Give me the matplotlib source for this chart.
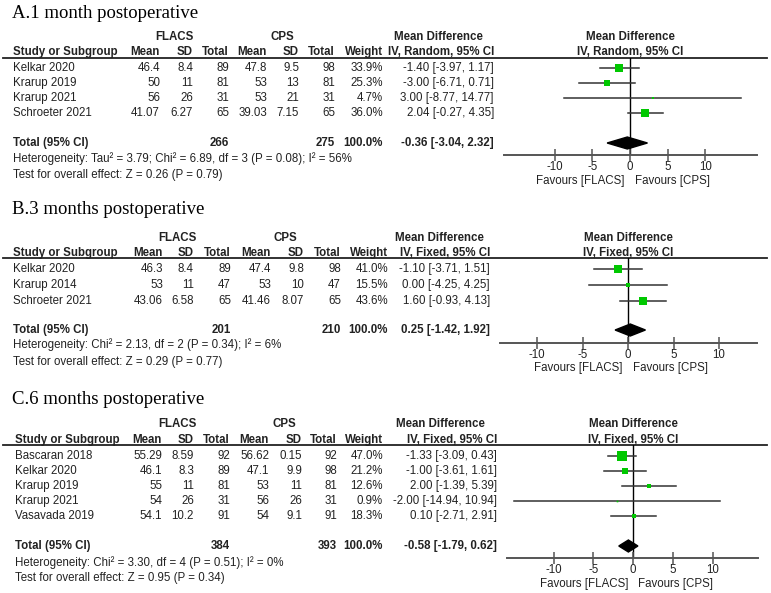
import matplotlib
matplotlib.use("Agg")
import matplotlib.pyplot as plt
import numpy as np

# ---------------- data ----------------
titles = ["A.1 month postoperative", "B.3 months postoperative", "C.6 months postoperative"]
methods = ["IV, Random, 95% CI", "IV, Fixed, 95% CI", "IV, Fixed, 95% CI"]

studies_A = ["Kelkar 2020", "Krarup 2019", "Krarup 2021", "Schroeter 2021"]
flacs_mean_A = ["46.4", "50", "56", "41.07"]
flacs_sd_A = ["8.4", "11", "26", "6.27"]
flacs_n_A = [89, 81, 31, 65]
cps_mean_A = ["47.8", "53", "53", "39.03"]
cps_sd_A = ["9.5", "13", "21", "7.15"]
cps_n_A = [98, 81, 31, 65]
weight_A = [33.9, 25.3, 4.7, 36.0]
md_A = [-1.40, -3.00, 3.00, 2.04]
lo_A = [-3.97, -6.71, -8.77, -0.27]
hi_A = [1.17, 0.71, 14.77, 4.35]
total_A = (266, 275, -0.36, -3.04, 2.32)
het_A = "Heterogeneity: Tau\u00b2 = 3.79; Chi\u00b2 = 6.89, df = 3 (P = 0.08); I\u00b2 = 56%"
test_A = "Test for overall effect: Z = 0.26 (P = 0.79)"

studies_B = ["Kelkar 2020", "Krarup 2014", "Schroeter 2021"]
flacs_mean_B = ["46.3", "53", "43.06"]
flacs_sd_B = ["8.4", "11", "6.58"]
flacs_n_B = [89, 47, 65]
cps_mean_B = ["47.4", "53", "41.46"]
cps_sd_B = ["9.8", "10", "8.07"]
cps_n_B = [98, 47, 65]
weight_B = [41.0, 15.5, 43.6]
md_B = [-1.10, 0.00, 1.60]
lo_B = [-3.71, -4.25, -0.93]
hi_B = [1.51, 4.25, 4.13]
total_B = (201, 210, 0.25, -1.42, 1.92)
het_B = "Heterogeneity: Chi\u00b2 = 2.13, df = 2 (P = 0.34); I\u00b2 = 6%"
test_B = "Test for overall effect: Z = 0.29 (P = 0.77)"

studies_C = ["Bascaran 2018", "Kelkar 2020", "Krarup 2019", "Krarup 2021", "Vasavada 2019"]
flacs_mean_C = ["55.29", "46.1", "55", "54", "54.1"]
flacs_sd_C = ["8.59", "8.3", "11", "26", "10.2"]
flacs_n_C = [92, 89, 81, 31, 91]
cps_mean_C = ["56.62", "47.1", "53", "56", "54"]
cps_sd_C = ["0.15", "9.9", "11", "26", "9.1"]
cps_n_C = [92, 98, 81, 31, 91]
weight_C = [47.0, 21.2, 12.6, 0.9, 18.3]
md_C = [-1.33, -1.00, 2.00, -2.00, 0.10]
lo_C = [-3.09, -3.61, -1.39, -14.94, -2.71]
hi_C = [0.43, 1.61, 5.39, 10.94, 2.91]
total_C = (384, 393, -0.58, -1.79, 0.62)
het_C = "Heterogeneity: Chi\u00b2 = 3.30, df = 4 (P = 0.51); I\u00b2 = 0%"
test_C = "Test for overall effect: Z = 0.95 (P = 0.34)"

ticks = [-10, -5, 0, 5, 10]

panels_data = [
    (studies_A, flacs_mean_A, flacs_sd_A, flacs_n_A, cps_mean_A, cps_sd_A, cps_n_A,
     weight_A, md_A, lo_A, hi_A, total_A, het_A, test_A),
    (studies_B, flacs_mean_B, flacs_sd_B, flacs_n_B, cps_mean_B, cps_sd_B, cps_n_B,
     weight_B, md_B, lo_B, hi_B, total_B, het_B, test_B),
    (studies_C, flacs_mean_C, flacs_sd_C, flacs_n_C, cps_mean_C, cps_sd_C, cps_n_C,
     weight_C, md_C, lo_C, hi_C, total_C, het_C, test_C),
]

# ---------------- layout (pixels) ----------------
W, H = 771, 593
layouts = [
    dict(title_y=13, h1=37, h2=52, line=58, row0=68, step=15, tot=143, het=159, test=175,
         study=13, cols=[160, 193, 229, 267, 299, 335, 383, 494], flacs_c=174, cps_c=282,
         mdh_c=438, zero=630, ppu=7.53, ax_l=504, ax_r=757, ax_y=155, fav_y=181),
    dict(title_y=210, h1=238, h2=253, line=258, row0=269, step=16, tot=330, het=345, test=362,
         study=13, cols=[163, 194, 231, 271, 304, 341, 388, 490], flacs_c=177, cps_c=285,
         mdh_c=439, zero=628, ppu=9.1, ax_l=500, ax_r=757, ax_y=343, fav_y=368),
    dict(title_y=400, h1=424, h2=440, line=445, row0=456, step=15, tot=546, het=563, test=578,
         study=15, cols=[162, 194, 230, 269, 302, 337, 383, 497], flacs_c=177, cps_c=284,
         mdh_c=440, zero=633, ppu=7.95, ax_l=507, ax_r=758, ax_y=558, fav_y=584),
]

SANS = "Liberation Sans"
SERIF = "Liberation Serif"
FS = 8.3
GREEN = "#00c800"

fig = plt.figure(figsize=(W / 100, H / 100), dpi=100)
bg = fig.add_axes([0, 0, 1, 1])
bg.set_xlim(0, W)
bg.set_ylim(H, 0)
bg.axis("off")


def txt(x, y, s, ha="left", bold=False, size=FS, family=SANS, color="#222222"):
    bg.text(x, y, s, ha=ha, va="center", fontsize=size, family=family,
            fontweight="bold" if bold else "normal", color=color)


for (studies, fm, fsd, fn, cm, csd, cn, wt, md, lo, hi, tot, het, test), L, method, title in zip(
        panels_data, layouts, methods, titles):
    txt(12, L["title_y"], title, size=13.5, family=SERIF, color="black")
    # headers
    txt(L["flacs_c"], L["h1"], "FLACS", ha="center", bold=True)
    txt(L["cps_c"], L["h1"], "CPS", ha="center", bold=True)
    txt(L["mdh_c"], L["h1"], "Mean Difference", ha="center", bold=True)
    txt(L["zero"], L["h1"], "Mean Difference", ha="center", bold=True)
    c = L["cols"]
    txt(L["study"], L["h2"], "Study or Subgroup", bold=True)
    for x, s in zip(c[:7], ["Mean", "SD", "Total", "Mean", "SD", "Total", "Weight"]):
        txt(x, L["h2"], s, ha="right", bold=True)
    txt(c[7], L["h2"], method, ha="right", bold=True)
    txt(L["zero"], L["h2"], method, ha="center", bold=True)
    bg.plot([3, 767], [L["line"], L["line"]], color="#222222", lw=1.3)

    rows_y = [L["row0"] + i * L["step"] for i in range(len(studies))]
    for i, y in enumerate(rows_y):
        txt(L["study"], y, studies[i])
        vals = [fm[i], fsd[i], str(fn[i]), cm[i], csd[i], str(cn[i]), f"{wt[i]:.1f}%",
                f"{md[i]:.2f} [{lo[i]:.2f}, {hi[i]:.2f}]"]
        for x, s in zip(c, vals):
            txt(x, y, s, ha="right")
    n1, n2, tmd, tlo, thi = tot
    txt(L["study"], L["tot"], "Total (95% CI)", bold=True)
    txt(c[2], L["tot"], str(n1), ha="right", bold=True)
    txt(c[5], L["tot"], str(n2), ha="right", bold=True)
    txt(c[6], L["tot"], "100.0%", ha="right", bold=True)
    txt(c[7], L["tot"], f"{tmd:.2f} [{tlo:.2f}, {thi:.2f}]", ha="right", bold=True)
    txt(L["study"], L["het"], het)
    txt(L["study"], L["test"], test)

    # forest axes
    xmin = (L["ax_l"] - L["zero"]) / L["ppu"]
    xmax = (L["ax_r"] - L["zero"]) / L["ppu"]
    ax = fig.add_axes([L["ax_l"] / W, 1 - L["ax_y"] / H,
                       (L["ax_r"] - L["ax_l"]) / W, (L["ax_y"] - L["line"]) / H])
    ax.set_xlim(xmin, xmax)
    ax.set_ylim(L["ax_y"], L["line"])
    ax.patch.set_alpha(0)
    for s in ["top", "right", "left"]:
        ax.spines[s].set_visible(False)
    ax.spines["bottom"].set_color("#555555")
    ax.spines["bottom"].set_linewidth(1.4)
    ax.set_yticks([])
    ax.set_xticks(ticks)
    ax.set_xticklabels([str(t) for t in ticks], fontsize=FS, family=SANS, color="#222222")
    ax.tick_params(axis="x", direction="inout", length=8, width=1.1, color="#555555", pad=0.3)
    ax.axvline(0, color="black", lw=1.0, zorder=1)
    for i, y in enumerate(rows_y):
        ax.plot([lo[i], hi[i]], [y, y], color="#333333", lw=1.1, zorder=2)
        side = 1.5 + 0.17 * wt[i]
        ax.plot(md[i], y, marker="s", ms=side * 0.72, color=GREEN, mec=GREEN, mew=0, zorder=3)
    ty = L["tot"]
    ax.fill([tlo, tmd, thi, tmd], [ty, ty - 6, ty, ty + 6], color="black", zorder=3)

    txt(L["zero"] - 5, L["fav_y"], "Favours [FLACS]", ha="right")
    txt(L["zero"] + 5, L["fav_y"], "Favours [CPS]", ha="left")

fig.savefig("out.png", dpi=100)
